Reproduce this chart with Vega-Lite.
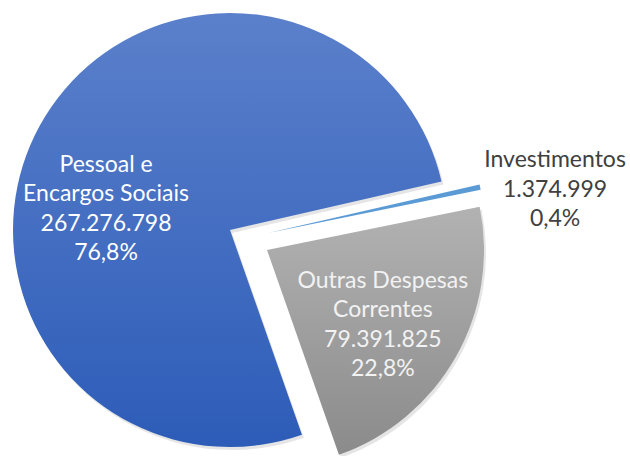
{
  "$schema": "https://vega.github.io/schema/vega-lite/v6.json",
  "autosize": "none",
  "width": 460,
  "height": 456,
  "padding": {"left": 0, "top": 0, "right": 170, "bottom": 0},
  "background": "white",
  "view": {"stroke": null},
  "data": {
    "values": [
      {"name": "Investimentos", "value": 1374999, "label": "Investimentos\n1.374.999\n0,4%"},
      {"name": "Outras Despesas Correntes", "value": 79391825, "label": "Outras Despesas\nCorrentes\n79.391.825\n22,8%"},
      {"name": "Pessoal e Encargos Sociais", "value": 267276798, "label": "Pessoal e\nEncargos Sociais\n267.276.798\n76,8%"}
    ]
  },
  "encoding": {
    "theta": {"field": "value", "type": "quantitative", "stack": true, "scale": {"range": [1.3456, 7.6288]}},
    "order": {"field": "name", "type": "ordinal", "sort": "ascending"}
  },
  "layer": [
    {
      "mark": {"type": "arc", "radius": 217, "xOffset": 2, "yOffset": 5, "color": "#000000"},
      "encoding": {"opacity": {"condition": {"test": "datum.name === 'Pessoal e Encargos Sociais'", "value": 0.1}, "value": 0}}
    },
    {
      "mark": {"type": "arc", "radius": 217, "xOffset": 39, "yOffset": 25, "color": "#000000"},
      "encoding": {"opacity": {"condition": {"test": "datum.name === 'Outras Despesas Correntes'", "value": 0.1}, "value": 0}}
    },
    {
      "mark": {"type": "arc", "radius": 217, "yOffset": 2,
        "color": {"gradient": "linear", "x1": 0, "y1": 0, "x2": 0, "y2": 1,
          "stops": [{"offset": 0, "color": "#5B80CB"}, {"offset": 1, "color": "#2D5CB8"}]}},
      "encoding": {"opacity": {"condition": {"test": "datum.name === 'Pessoal e Encargos Sociais'", "value": 1}, "value": 0}}
    },
    {
      "mark": {"type": "arc", "radius": 217, "xOffset": 37, "yOffset": 22,
        "color": {"gradient": "linear", "x1": 0, "y1": 0, "x2": 0, "y2": 1,
          "stops": [{"offset": 0, "color": "#B2B2B2"}, {"offset": 1, "color": "#8B8B8B"}]}},
      "encoding": {"opacity": {"condition": {"test": "datum.name === 'Outras Despesas Correntes'", "value": 1}, "value": 0}}
    },
    {
      "mark": {"type": "arc", "radius": 217, "xOffset": 38, "yOffset": 5, "color": "#5B9BD5"},
      "encoding": {"opacity": {"condition": {"test": "datum.name === 'Investimentos'", "value": 1}, "value": 0}}
    },
    {
      "mark": {"type": "text", "radius": 125, "dx": -14.5, "dy": -3, "font": "Lato", "fontSize": 23, "lineHeight": 29.5, "lineBreak": "\n", "align": "center", "baseline": "middle", "color": "#FFFFFF"},
      "encoding": {
        "text": {"field": "label", "type": "nominal"},
        "opacity": {"condition": {"test": "datum.name === 'Pessoal e Encargos Sociais'", "value": 1}, "value": 0}
      }
    },
    {
      "mark": {"type": "text", "radius": 170, "dx": 5, "dy": -31, "font": "Lato", "fontSize": 23, "lineHeight": 29.5, "lineBreak": "\n", "align": "center", "baseline": "middle", "color": "#F2F2F2"},
      "encoding": {
        "text": {"field": "label", "type": "nominal"},
        "opacity": {"condition": {"test": "datum.name === 'Outras Despesas Correntes'", "value": 1}, "value": 0}
      }
    },
    {
      "mark": {"type": "text", "radius": 330, "dx": 2.5, "dy": 2, "font": "Lato", "fontSize": 23, "lineHeight": 29.5, "lineBreak": "\n", "align": "center", "baseline": "middle", "color": "#404040"},
      "encoding": {
        "text": {"field": "label", "type": "nominal"},
        "opacity": {"condition": {"test": "datum.name === 'Investimentos'", "value": 1}, "value": 0}
      }
    }
  ]
}
